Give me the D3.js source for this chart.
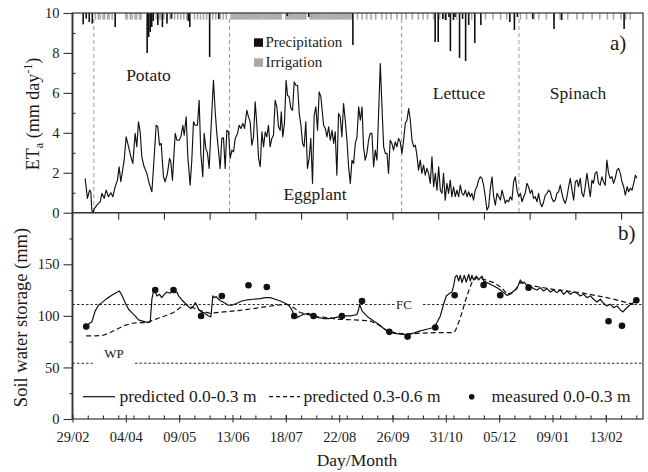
<!DOCTYPE html>
<html>
<head>
<meta charset="utf-8">
<script src="https://cdn.jsdelivr.net/npm/d3@7"></script>
<style>
  body { margin: 0; background: #fff; }
  #chart, #chart text { font-family: "Liberation Serif", "DejaVu Serif", "Noto Serif", serif; }
  #chart text { fill: #1a1a1a; }
</style>
</head>
<body>
<svg id="chart" width="648" height="472"></svg>
<script>
// ---- Data (day 0 = 29 February) ----
const tickDays   = [0, 35, 70, 105, 140, 175, 210, 245, 280, 315, 350];
const tickLabels = ["29/02", "04/04", "09/05", "13/06", "18/07", "22/08", "26/09", "31/10", "05/12", "09/01", "13/02"];

const crops      = ["Potato", "Eggplant", "Lettuce", "Spinach"];
const cropBounds = [14, 103, 216, 293];   // day each crop period starts/ends

// Daily actual evapotranspiration, ETa (mm day-1): [day, value]
const etSeries = [[8.3,1.72],[9.8,0.72],[11.2,1.13],[12,1.05],[12.7,0.13],[13.3,0],[14.4,0.22],[16,0.38],[18.2,0.55],[19.3,0.97],[20.8,0.72],[22.1,1.13],[23.6,0.8],[25.2,1.0],[26.5,0.8],[28,1.3],[29.5,1.63],[30.6,2.3],[31.7,1.55],[33.9,2.63],[35.2,3.8],[36.8,3.3],[38.3,2.8],[39.6,2.47],[41.1,3.97],[42.2,3.3],[43.3,4.55],[44.4,4.05],[45.5,2.8],[47,2.3],[48.8,1.97],[50.3,1.47],[52.1,1.05],[53.6,2.8],[54.9,4.38],[56,4.3],[57.1,3.38],[58.2,3.47],[59.7,1.8],[60.8,1.55],[62.3,1.97],[63.7,2.72],[64.5,2.55],[65.6,1.63],[67.4,3.97],[68.5,3.63],[70,3.63],[71.1,3.8],[72.4,4.38],[73.3,3.88],[74.6,4.8],[75.7,2.8],[77.2,1.38],[78.3,2.63],[79.4,4.55],[80.5,4.38],[82,4.38],[83.1,5.63],[84.2,2.97],[85.5,1.8],[86.4,3.97],[87.5,3.22],[88.6,2.97],[89.7,2.22],[90.8,4.05],[92.5,6.63],[93.6,5.13],[94.7,3.97],[95.8,3.13],[96.9,2.22],[98,3.72],[99.1,3.75],[100.2,2.22],[101.3,4.13],[102.4,4.05],[103.5,2.72],[104.6,3.13],[105.7,3.05],[106.8,3.72],[108.3,3.97],[109.4,4.38],[110.5,4.22],[111.8,4.47],[112.9,4.22],[114.4,5.13],[115.5,4.8],[116.6,4.55],[117.7,3.38],[118.8,3.8],[119.9,5.55],[121,4.38],[122.1,2.72],[123.2,2.3],[124.3,4.05],[125.4,3.3],[126.5,4.05],[127.5,3.8],[128.6,4.38],[129.7,3.3],[130.8,3.72],[131.9,3.88],[133,5.63],[134.1,5.3],[135.2,4.3],[136.3,4.13],[137,5.05],[138,3.8],[139.1,4.47],[140.2,6.63],[141.1,5.88],[142.2,5.8],[143.3,5.22],[144.4,5.13],[145.5,6.55],[146.6,6.38],[147.7,6.38],[148.8,4.97],[149.9,4.38],[151,3.47],[152,3.3],[153.1,4.55],[154.2,2.22],[155.3,2.72],[156.4,3.72],[157.5,1.47],[158.6,4.88],[159.7,5.3],[160.8,4.13],[161.9,6.05],[163,5.8],[164.8,4.38],[165.9,4.22],[167,3.8],[168.1,4.3],[169.2,3.63],[170.3,4.13],[171.4,3.47],[172.4,4.05],[173.5,1.88],[174.6,4.97],[175.7,4.8],[176.8,3.8],[177.9,5.47],[179,4.63],[180.1,3.63],[181.2,2.3],[182.3,1.47],[183.4,2.63],[184.5,2.47],[185.6,3.47],[186.7,3.8],[187.8,5.3],[188.9,4.63],[190,5.3],[191,3.3],[192.1,2.63],[193.2,2.97],[194.3,3.63],[195.4,3.97],[196.5,3.97],[197.6,2.3],[198.7,3.13],[199.8,2.63],[200.9,4.97],[202,7.47],[203.1,5.3],[204.2,3.3],[205.3,2.97],[206.4,2.97],[207.4,1.97],[208.5,3.63],[209.6,3.47],[210.7,3.13],[211.8,3.55],[212.9,3.3],[214,3.72],[215.1,3.55],[216.2,2.97],[217.3,3.63],[218.4,4.47],[219.5,4.63],[220.6,5.22],[221.7,4.63],[222.8,3.63],[223.9,3.3],[225,3.38],[226,2.88],[227.1,2.13],[228.2,2.63],[229.3,1.97],[230.4,2.38],[231.5,1.88],[232.6,2.22],[233.7,1.97],[234.8,1.47],[235.9,2.8],[237,1.3],[238.1,1.97],[239.2,1.13],[240.3,2.3],[241.4,1.13],[242.5,0.97],[243.5,1.97],[244.6,0.63],[245.7,1.47],[246.8,0.97],[247.9,1.63],[249,0.8],[250.1,1.3],[251.2,0.8],[252.3,1.13],[253.4,0.8],[254.5,1.38],[255.6,0.97],[256.7,0.88],[257.8,1.13],[258.9,0.8],[260,1.05],[261.1,0.8],[262.1,0.97],[263.2,0.63],[264.3,1.13],[265.4,1.3],[266.5,1.63],[267.6,1.8],[268.7,1.72],[269.8,1.38],[270.9,0.8],[272,0.13],[273.1,0.3],[274.2,1.22],[275.3,1.8],[276.4,0.8],[277.5,0.38],[278.6,0.97],[279.7,0.8],[280.8,0.63],[281.9,1.13],[283,0.8],[284,0.47],[285.1,0.63],[286.2,0.55],[287.3,0.8],[288.4,0.63],[289.5,1.55],[290.6,1.8],[291.7,1.13],[292.8,0.8],[293.9,0.97],[295,0.55],[296.1,0.8],[297.1,0.97],[298.2,1.47],[299.3,1.3],[300.4,0.97],[301.5,1.13],[302.6,0.72],[303.7,0.8],[304.8,0.55],[305.9,0.97],[307,0.47],[308.1,0.3],[309.2,0.55],[310.3,0.88],[311.4,0.97],[312.5,1.13],[313.5,1.05],[314.6,0.72],[315.7,0.55],[316.8,0.63],[317.9,0.97],[319,1.05],[320.1,1.38],[321.2,0.97],[322.3,0.63],[323.4,0.47],[324.5,0.8],[325.6,1.3],[326.7,1.72],[327.8,1.13],[328.9,0.63],[330,1.55],[331.1,1.63],[332.1,1.3],[333.2,1.72],[334.3,0.97],[335.4,0.8],[336.5,1.3],[337.6,1.97],[338.7,1.38],[339.8,0.8],[340.9,1.63],[341.9,1.47],[343,1.97],[344.1,2.05],[345.2,1.47],[346.3,1.38],[347.4,1.8],[348.5,1.55],[349.6,1.38],[350.7,2.63],[351.8,1.97],[352.9,1.72],[354,1.8],[355.1,1.47],[356.2,1.72],[357.3,2.13],[358.4,2.22],[359.5,1.97],[360.6,1.55],[361.7,1.3],[362.8,0.88],[364,1.3],[365,1.05],[366.1,1.22],[367.2,1.13],[368.3,1.47],[369.4,1.88],[370.4,1.72]];

// Precipitation events (mm): [day, depth]
const precipitation = [[7,5.7],[9,2.8],[11,4.5],[13,5.3],[28,7],[49,20],[50,12],[51,9.5],[52,7],[53,4],[56,6],[59,7],[62,5.3],[65,2.8],[76,4],[77,7],[90,22],[96,3],[141,1.5],[155,2],[184,16],[238,14.5],[240,14.5],[243,3],[245,3.5],[247,2],[248,19],[250,3.5],[251,2],[254,22.5],[256,3],[258,24],[260,6],[264,15],[268,6],[287,4.5],[290,8.5],[292,2],[302,3],[316,8],[321,3.5],[362,8]];

// Irrigation event days and the depth applied at each event (mm)
const irrigationDays = [15,17,18,20,21,23,24,26,35,36,38,39,41,42,44,45,53,55,57,58,60,62,64,67,69,71,73,75,80,82,84,86,88,92,94,97,99,101,
  104,105,106,107,108,109,110,111,112,113,114,115,116,117,118,119,120,121,122,123,124,125,126,127,128,129,130,131,132,133,134,135,136,137,
  140,141,142,143,144,145,146,147,148,149,150,151,152,153,156,157,158,159,160,161,162,163,164,165,166,167,168,169,170,171,172,173,174,175,
  176,177,178,179,180,181,182,183,
  187,190,193,196,199,203,206,209,213,216,219,223,227,230,233,237,241,
  244,252,262,271,276,281,285,290,294,298,303,306,311,316,320,325,331,335,341,346,351,355,360,363,366];
const irrigationDepth = 3.3;

// Soil water storage (mm)
const predictedTop = [[9,90.3],[11.2,92.8],[12.7,94.1],[14.9,104.8],[17.1,110.3],[19.3,112.8],[22.5,116.7],[25.8,119.9],[28,121.9],[29.5,123.1],[30.8,124.1],[32.4,119.9],[34.6,112.8],[36.8,106.4],[38.9,103.2],[41.1,99.9],[43.3,96.1],[45.5,95.1],[47.7,94.1],[49.9,93.5],[51,94.1],[52.1,116.1],[53.2,124.1],[54.3,123.1],[55.4,119.3],[57.1,120.9],[58.6,117.7],[59.7,119.9],[61.9,123.1],[64.1,121.9],[65.2,124.1],[66.3,125.1],[67.4,122.5],[68.5,123.1],[69.6,119.3],[71.8,115.4],[74,112.2],[76.1,109],[77.7,107],[79.4,109.6],[80.5,112.8],[81.6,110.3],[82.7,106.4],[83.8,104.8],[84.9,103.2],[86.4,103.2],[87.7,101.5],[89.3,99.9],[90.8,99],[92.1,119.3],[93,117.7],[94.3,118.6],[95.8,116.1],[97.4,114.4],[98.7,113.5],[100.2,112.2],[102.4,110.3],[104.6,110.3],[107.9,112.2],[111.1,114.4],[114.4,115.4],[118.8,116.1],[123.2,116.7],[126.5,117.7],[129.7,117.7],[133,116.1],[136.3,114.4],[139.6,112.2],[141.8,110.3],[144,105.7],[145.5,99.9],[147.2,98.3],[149.4,99.9],[151.6,101.5],[154.9,102.5],[158.2,99.9],[161.5,98.3],[164.7,97.4],[168,97.4],[171.4,98],[175.7,99.3],[179,99.9],[182.3,99.9],[184.5,100.6],[186.7,101.2],[187.8,106.4],[188.4,111.2],[190,104.8],[192.1,101.5],[194.3,98.3],[197.6,95.1],[200.9,91.9],[204.2,87.7],[207.4,84.5],[210.7,83.2],[215.1,82.2],[219.5,81.9],[223.9,83.2],[228.2,85.4],[232.6,87],[237,88.7],[239.2,93.5],[241.4,99.9],[243.5,111.2],[245.3,119.3],[247.5,121.9],[249,123.1],[250.1,128.9],[251.2,138],[252.3,139.3],[253.4,133.8],[254.5,139.3],[255.6,132.2],[257.1,139.3],[258.4,132.8],[260,140.2],[261.1,133.8],[262.1,139.3],[263.2,134.8],[265,138.6],[266.5,134.8],[268.7,138.6],[269.8,133.8],[272,132.2],[274.2,130.6],[276.4,128.9],[278.6,127.3],[280.8,125.1],[282.9,122.5],[285.1,119.9],[287.3,120.9],[289.5,124.1],[291.7,126.4],[293.9,134.8],[295,132.2],[296.5,132.8],[298.2,128.9],[300.4,128.9],[302.6,126.4],[304.8,125.1],[307,127.3],[309.2,124.1],[311.4,126.4],[313.6,123.1],[315.7,125.1],[317.9,122.5],[320.1,125.1],[322.3,120.9],[324.5,124.1],[326.7,120.9],[328.9,123.1],[331.1,121.9],[333.2,119.3],[335.4,120.9],[337.6,117.7],[339.8,119.3],[342,116.1],[344.2,113.5],[346.4,116.1],[348.6,112.2],[350.7,109.6],[352.9,111.2],[355.1,108],[357.3,109.6],[359.5,105.7],[361.3,103.8],[362.8,106.4],[365,109.6],[367.2,112.2],[369.4,113.5],[371.5,114.4]];

const predictedSub = [[9,80.6],[14.9,80.6],[20.3,81.2],[24.7,83.8],[29.1,87],[33.5,90.3],[38.9,92.8],[44.4,93.5],[48.8,93.5],[53.2,96.1],[57.5,98.3],[61.9,100.6],[66.3,103.2],[70.7,108],[74,111.2],[77.2,109],[81.6,106.4],[86,104.1],[90.4,102.5],[94.7,103.2],[101.3,104.1],[110,105.4],[118.8,107],[127.5,109],[134.1,110.3],[140.7,111.2],[145,108],[149.4,103.2],[153.8,101.5],[160.4,99.3],[168,98.3],[173.5,96.7],[184.5,96.1],[188.9,95.7],[195.4,95.1],[202,90.3],[206.4,85.4],[212.9,83.2],[219.5,82.2],[228.2,83.2],[239.2,83.8],[250.1,83.8],[251.2,85.4],[253.4,93.5],[255.6,103.2],[257.8,114.4],[260,124.1],[262.1,132.2],[265.4,137],[269.8,135.4],[276.4,132.2],[281.8,127.3],[285.1,120.9],[289.5,123.1],[293.9,132.2],[302.6,128.9],[315.7,125.7],[333.2,122.5],[350.7,117.7],[368.3,111.2],[371.5,113.5]];

const measuredTop = [[9,89.6],[54.3,125.1],[66.3,125.1],[84.4,99.9],[98,119.3],[115.5,129.6],[127.5,128],[145.5,99.9],[158.2,99.9],[176.8,99.9],[190,114.4],[207.9,84.5],[219.9,79.9],[238.1,88.7],[250.8,119.9],[269.8,129.9],[280.7,119.9],[299.3,127.3],[351.8,94.8],[360.6,90.3],[370,115.1]];

const fieldCapacity = 111;
const wiltingPoint  = 54;

// ---- Layout ----
const FONT = "'Liberation Serif', 'DejaVu Serif', 'Noto Serif', serif";
const svg = d3.select("#chart").attr("font-family", FONT);
const L = 72.5, R = 643;
const topY0 = 212.7, topY1 = 13;
const botY0 = 419, botY1 = 212.7;
const ink = "#1a1a1a";

const x      = d3.scaleLinear().domain([0, 374.4]).range([L, R]);
const yEt    = d3.scaleLinear().domain([0, 10]).range([topY0, topY1]);
const yRain  = d3.scaleLinear().domain([0, 100]).range([topY1, topY0]);
const ySoil  = d3.scaleLinear().domain([0, 200]).range([botY0, botY1]);

function label(sel) { return sel.attr("font-family", FONT).attr("fill", ink); }

// ---- Panel a): crop periods ----
svg.append("g").selectAll("line").data(cropBounds).join("line")
  .attr("x1", d => x(d)).attr("x2", d => x(d))
  .attr("y1", 19).attr("y2", topY0)
  .attr("stroke", "#9a9a9a").attr("stroke-width", 1).attr("stroke-dasharray", "4,3");

// irrigation and precipitation bars hanging from the top
svg.append("g").selectAll("rect").data(irrigationDays).join("rect")
  .attr("x", d => x(d) - 0.8).attr("width", 1.6)
  .attr("y", yRain(0)).attr("height", yRain(irrigationDepth) - yRain(0))
  .attr("fill", "#a8a8a8");
svg.append("g").selectAll("rect").data(precipitation).join("rect")
  .attr("x", d => x(d[0]) - 0.8).attr("width", 1.6)
  .attr("y", yRain(0)).attr("height", d => yRain(d[1]) - yRain(0))
  .attr("fill", "#111");

// ET line
svg.append("path").datum(etSeries)
  .attr("fill", "none").attr("stroke", "#111").attr("stroke-width", 1.15)
  .attr("stroke-linejoin", "round")
  .attr("d", d3.line().x(d => x(d[0])).y(d => yEt(d[1])));

// crop names
const cropPos = [[148.5, 81], [315, 200], [459, 99], [578, 99]];
svg.append("g").selectAll("text").data(crops).join("text")
  .attr("x", (d, i) => cropPos[i][0]).attr("y", (d, i) => cropPos[i][1])
  .attr("text-anchor", "middle").attr("font-size", 17.5).text(d => d).call(label);

// legend for bars
const lg = svg.append("g");
lg.append("rect").attr("x", 254).attr("y", 38.3).attr("width", 9).attr("height", 8.5).attr("fill", "#111");
lg.append("text").attr("x", 265.5).attr("y", 47).attr("font-size", 15).text("Precipitation").call(label);
lg.append("rect").attr("x", 254).attr("y", 58.3).attr("width", 9).attr("height", 8.5).attr("fill", "#a8a8a8");
lg.append("text").attr("x", 265.5).attr("y", 67).attr("font-size", 15).text("Irrigation").call(label);

svg.append("text").attr("x", 610).attr("y", 50).attr("font-size", 21).text("a)").call(label);

// ---- Panel b): reference levels ----
function dotted(y, segs) {
  segs.forEach(s => svg.append("line")
    .attr("x1", s[0]).attr("x2", s[1]).attr("y1", y).attr("y2", y)
    .attr("stroke", "#333").attr("stroke-width", 1.1).attr("stroke-dasharray", "2.5,2"));
}
dotted(ySoil(fieldCapacity), [[L, 395], [423, R]]);
dotted(ySoil(wiltingPoint), [[L, 92.7], [135, R]]);
svg.append("text").attr("x", 404).attr("y", ySoil(fieldCapacity) + 4.5)
  .attr("text-anchor", "middle").attr("font-size", 13).text("FC").call(label);
svg.append("text").attr("x", 114).attr("y", ySoil(wiltingPoint) - 5)
  .attr("text-anchor", "middle").attr("font-size", 13).text("WP").call(label);

// soil water lines
const soilLine = d3.line().x(d => x(d[0])).y(d => ySoil(d[1]));
svg.append("path").datum(predictedSub)
  .attr("fill", "none").attr("stroke", "#111").attr("stroke-width", 1.2)
  .attr("stroke-dasharray", "5,3").attr("d", soilLine);
svg.append("path").datum(predictedTop)
  .attr("fill", "none").attr("stroke", "#111").attr("stroke-width", 1.2)
  .attr("stroke-linejoin", "round").attr("d", soilLine);
svg.append("g").selectAll("circle").data(measuredTop).join("circle")
  .attr("cx", d => x(d[0])).attr("cy", d => ySoil(d[1])).attr("r", 3.3).attr("fill", "#111");

// legend
const lb = svg.append("g");
const ly = 396.7;
lb.append("line").attr("x1", 83).attr("x2", 115).attr("y1", ly).attr("y2", ly).attr("stroke", "#111").attr("stroke-width", 1.2);
lb.append("text").attr("x", 119.5).attr("y", 402).attr("font-size", 17.5).text("predicted 0.0-0.3 m").call(label);
lb.append("line").attr("x1", 269).attr("x2", 300).attr("y1", ly).attr("y2", ly).attr("stroke", "#111").attr("stroke-width", 1.2).attr("stroke-dasharray", "4,3");
lb.append("text").attr("x", 303.5).attr("y", 402).attr("font-size", 17.5).text("predicted 0.3-0.6 m").call(label);
lb.append("circle").attr("cx", 471.7).attr("cy", ly).attr("r", 2.8).attr("fill", "#111");
lb.append("text").attr("x", 491.5).attr("y", 402).attr("font-size", 17.5).text("measured 0.0-0.3 m").call(label);

svg.append("text").attr("x", 618).attr("y", 240).attr("font-size", 21).text("b)").call(label);

// ---- Axes and frame ----
function styleAxis(g) {
  g.attr("font-family", FONT);
  g.select(".domain").remove();
  g.selectAll("line").attr("stroke", "#333").attr("stroke-width", 1.1);
  g.selectAll("text").call(label);
}

// top panel y axis
svg.append("g").attr("transform", `translate(${L},0)`)
  .call(d3.axisLeft(yEt).tickValues([0, 2, 4, 6, 8, 10]).tickSize(9).tickPadding(4))
  .call(styleAxis).selectAll("text").attr("font-size", 14.5);
svg.append("g").attr("transform", `translate(${L},0)`)
  .call(d3.axisRight(yEt).tickValues([1, 3, 5, 7, 9]).tickSize(3).tickFormat(""))
  .call(styleAxis);

// bottom panel y axis
svg.append("g").attr("transform", `translate(${L},0)`)
  .call(d3.axisLeft(ySoil).tickValues([0, 50, 100, 150]).tickSize(9).tickPadding(4))
  .call(styleAxis).selectAll("text").attr("font-size", 14.5);
svg.append("g").attr("transform", `translate(${L},0)`)
  .call(d3.axisLeft(ySoil).tickValues([25, 75, 125, 175]).tickSize(3).tickFormat(""))
  .call(styleAxis);

// ticks between the panels (every 30 days)
svg.append("g").attr("transform", `translate(0,${topY0})`)
  .call(d3.axisBottom(x).tickValues(d3.range(30, 374, 30)).tickSize(7).tickFormat(""))
  .call(styleAxis);

// bottom x axis: minor ticks every 10 days, labelled ticks every 35 days
svg.append("g").attr("transform", `translate(0,${botY0})`)
  .call(d3.axisBottom(x).tickValues(d3.range(10, 374, 10)).tickSize(-3.5).tickFormat(""))
  .call(styleAxis);
const xa = svg.append("g").attr("transform", `translate(0,${botY0})`)
  .call(d3.axisBottom(x).tickValues(tickDays).tickFormat((d, i) => tickLabels[i]).tickSize(3.5).tickPadding(9))
  .call(styleAxis);
xa.selectAll("line").attr("y1", -4);
xa.selectAll("text").attr("font-size", 14.5);

// frame
svg.append("rect").attr("x", L).attr("y", topY1).attr("width", R - L).attr("height", botY0 - topY1)
  .attr("fill", "none").attr("stroke", "#333").attr("stroke-width", 1.2);
svg.append("line").attr("x1", L).attr("x2", R).attr("y1", topY0).attr("y2", topY0)
  .attr("stroke", "#333").attr("stroke-width", 1.4);
svg.append("line").attr("x1", L).attr("x2", L).attr("y1", topY1).attr("y2", botY0)
  .attr("stroke", "#333").attr("stroke-width", 1.8);

// axis titles
const et = svg.append("text").attr("transform", `translate(39,114) rotate(-90)`)
  .attr("text-anchor", "middle").attr("font-size", 18).call(label);
et.append("tspan").text("ET");
et.append("tspan").attr("font-size", 12).attr("dy", 4).text("a");
et.append("tspan").attr("dy", -4).text(" (mm day");
et.append("tspan").attr("font-size", 12).attr("dy", -7).text("-1");
et.append("tspan").attr("dy", 7).text(")");

svg.append("text").attr("transform", `translate(26.5,317.5) rotate(-90)`)
  .attr("text-anchor", "middle").attr("font-size", 18.5).text("Soil water storage (mm)").call(label);

svg.append("text").attr("x", 357).attr("y", 465.5).attr("text-anchor", "middle")
  .attr("font-size", 17.5).text("Day/Month").call(label);
</script>
</body>
</html>
